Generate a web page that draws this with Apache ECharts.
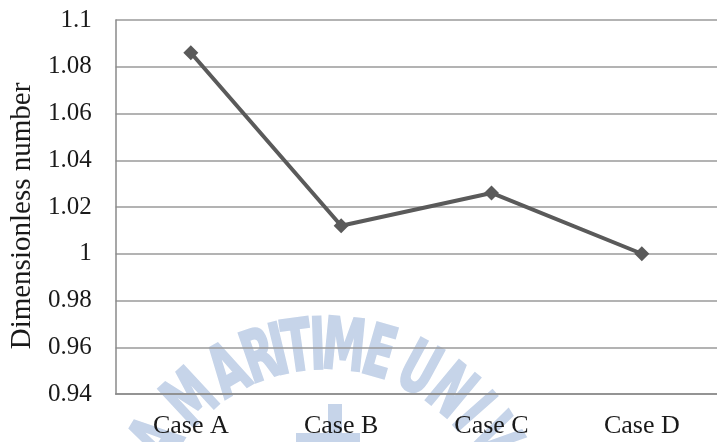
<!DOCTYPE html>
<html>
<head>
<meta charset="utf-8">
<script src="https://cdn.jsdelivr.net/npm/echarts@6/dist/echarts.min.js"></script>
<style>
  html, body { margin: 0; padding: 0; background: #fff; }
  #chart { width: 717px; height: 442px; }
</style>
</head>
<body>
<div id="chart"></div>
<script>
// Categories and measured dimensionless values
const categories = ['Case A', 'Case B', 'Case C', 'Case D'];
const values = [1.086, 1.012, 1.026, 1.0];
const yTicks = { min: 0.94, max: 1.1, step: 0.02 };
const yName = 'Dimensionless number';

// Faint university seal printed behind the plot: letters set on an arc
const sealLetters = ['E', 'A', 'M', 'A', 'R', 'I', 'T', 'I', 'M', 'E', 'U', 'N', 'I', 'V', 'E'];
const sealAngles = [-72, -58.4, -42.9, -29.4, -19.2, -13.5, -8.0, -2.1, 5.5, 16.0, 28.4, 39.7, 48.6, 58.0, 69];
const sealCx = 325, sealCy = 543, sealR = 193;
const sealColor = '#c6d4e9';
const seal = [];
sealLetters.forEach((ch, i) => {
  const a = sealAngles[i] * Math.PI / 180;
  seal.push({
    type: 'text',
    x: sealCx + sealR * Math.sin(a),
    y: sealCy - sealR * Math.cos(a),
    rotation: -a,
    scaleX: 0.7,
    scaleY: 1.15,
    z: -10,
    silent: true,
    style: {
      text: ch,
      fill: sealColor,
      stroke: sealColor,
      lineWidth: 2,
      font: 'bold 62px "DejaVu Sans"',
      align: 'center',
      verticalAlign: 'middle'
    }
  });
});
seal.push({
  type: 'rect', z: -10, silent: true,
  shape: { x: 296, y: 433, width: 64, height: 20 },
  style: { fill: sealColor }
});
seal.push({
  type: 'rect', z: -10, silent: true,
  shape: { x: 328, y: 404, width: 14, height: 30 },
  style: { fill: sealColor }
});

const serif = '"Liberation Serif", "Times New Roman", serif';

const chart = echarts.init(document.getElementById('chart'), null, { renderer: 'canvas' });
chart.setOption({
  animation: false,
  backgroundColor: '#ffffff',
  graphic: seal,
  grid: { left: 114, top: 20, width: 608, bottom: 48, containLabel: false },
  xAxis: {
    type: 'category',
    data: categories,
    boundaryGap: true,
    axisLine: { show: true, lineStyle: { color: '#8a8a8a', width: 1.5 } },
    axisTick: { show: false },
    axisLabel: { color: '#1a1a1a', fontFamily: serif, fontSize: 26, margin: 19 },
    splitLine: { show: false }
  },
  yAxis: {
    type: 'value',
    min: yTicks.min,
    max: yTicks.max,
    interval: yTicks.step,
    name: yName,
    nameLocation: 'middle',
    nameRotate: 90,
    nameGap: 78,
    nameTextStyle: { color: '#1a1a1a', fontFamily: serif, fontSize: 29, padding: [0, 18, 0, 0] },
    axisLine: { show: true, lineStyle: { color: '#8a8a8a', width: 1.5 } },
    axisTick: { show: false },
    axisLabel: {
      color: '#1a1a1a', fontFamily: serif, fontSize: 25, margin: 24,
      formatter: v => String(+v.toFixed(2))
    },
    splitLine: { show: true, lineStyle: { color: '#9a9a9a', width: 1.5 } }
  },
  series: [{
    type: 'line',
    data: values,
    symbol: 'diamond',
    symbolSize: 15,
    lineStyle: { color: '#5a5a5a', width: 4 },
    itemStyle: { color: '#5a5a5a' },
    z: 5
  }]
});
</script>
</body>
</html>
